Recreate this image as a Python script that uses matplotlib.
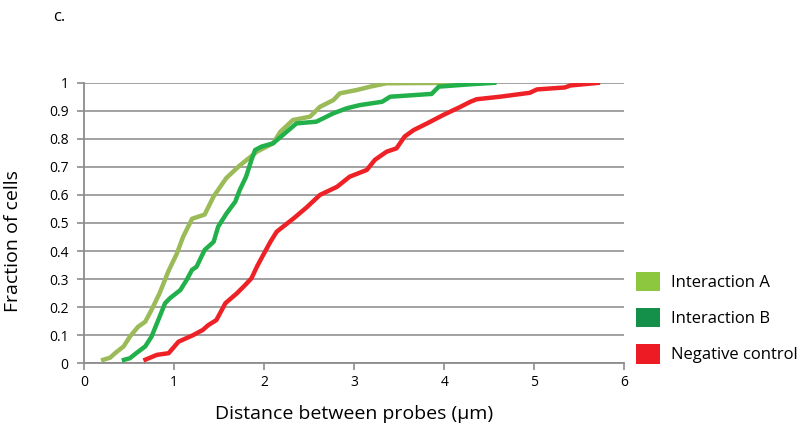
import matplotlib.pyplot as plt
from matplotlib.patches import Patch

plt.rcParams['font.family'] = ['Open Sans', 'DejaVu Sans']

# cumulative distributions
dist_a = [0.19, 0.29, 0.36, 0.44, 0.51, 0.60, 0.68, 0.75, 0.84, 0.94, 1.03, 1.10, 1.20,
          1.34, 1.44, 1.58, 1.73, 1.92, 2.10, 2.18, 2.32, 2.51, 2.62, 2.77, 2.84, 3.03,
          3.18, 3.36, 4.40]
frac_a = [0.01, 0.02, 0.04, 0.06, 0.095, 0.13, 0.148, 0.19, 0.25, 0.33, 0.39, 0.45, 0.515,
          0.53, 0.595, 0.66, 0.705, 0.754, 0.784, 0.825, 0.867, 0.879, 0.914, 0.938, 0.962,
          0.974, 0.986, 0.998, 1.0]

dist_b = [0.42, 0.51, 0.58, 0.68, 0.75, 0.84, 0.90, 0.955, 1.07, 1.14, 1.20, 1.25, 1.34,
          1.44, 1.49, 1.585, 1.68, 1.73, 1.80, 1.86, 1.90, 1.97, 2.10, 2.21, 2.36, 2.58,
          2.77, 2.92, 3.06, 3.31, 3.40, 3.86, 3.94, 4.32, 4.58]
frac_b = [0.01, 0.018, 0.036, 0.06, 0.095, 0.166, 0.214, 0.232, 0.261, 0.297, 0.333, 0.344,
          0.404, 0.433, 0.487, 0.535, 0.576, 0.618, 0.665, 0.725, 0.76, 0.772, 0.784, 0.814,
          0.855, 0.861, 0.891, 0.909, 0.92, 0.932, 0.95, 0.96, 0.986, 0.995, 1.0]

dist_neg = [0.66, 0.81, 0.94, 1.05, 1.21, 1.32, 1.38, 1.47, 1.57, 1.70, 1.79, 1.86, 1.92,
            1.99, 2.07, 2.14, 2.33, 2.47, 2.62, 2.81, 2.95, 3.14, 3.23, 3.36, 3.47, 3.56,
            3.66, 3.81, 3.99, 4.18, 4.29, 4.36, 4.62, 4.95, 5.03, 5.34, 5.40, 5.73]
frac_neg = [0.01, 0.03, 0.036, 0.077, 0.10, 0.119, 0.136, 0.154, 0.214, 0.25, 0.279, 0.303,
            0.344, 0.386, 0.433, 0.469, 0.517, 0.555, 0.60, 0.629, 0.665, 0.689, 0.725, 0.754,
            0.766, 0.808, 0.831, 0.855, 0.885, 0.914, 0.932, 0.941, 0.95, 0.964, 0.976, 0.983,
            0.99, 1.0]

labels = ['Interaction A', 'Interaction B', 'Negative control']
line_colors = ['#9BBB59', '#22B04B', '#EE2226']
patch_colors = ['#8DC63F', '#15904A', '#ED1C24']

fig = plt.figure(figsize=(8.02, 4.28), dpi=100)
ax = fig.add_axes([0.1047, 0.1512, 0.6738, 0.6556])

for xs, ys, c in zip([dist_a, dist_b, dist_neg], [frac_a, frac_b, frac_neg], line_colors):
    ax.plot(xs, ys, color=c, lw=3.2, solid_joinstyle='round', solid_capstyle='butt', zorder=3)

ax.set_xlim(0, 6)
ax.set_ylim(0, 1)
ax.set_xticks(range(7))
ax.set_yticks([i / 10 for i in range(11)])
ax.set_yticklabels(['0', '0.1', '0.2', '0.3', '0.4', '0.5', '0.6', '0.7', '0.8', '0.9', '1'])
ax.yaxis.grid(True, color='#9A9A9A', lw=1.3)
ax.set_axisbelow(True)
for s in ['top', 'right']:
    ax.spines[s].set_visible(False)
for s in ['left', 'bottom']:
    ax.spines[s].set_color('#8C8C8C')
    ax.spines[s].set_linewidth(1.3)
ax.tick_params(axis='both', colors='#8C8C8C', length=5, width=1.2, labelsize=10, labelcolor='black')
ax.tick_params(axis='y', pad=6)

ax.set_xlabel('Distance between probes (µm)', fontsize=14)
ax.xaxis.set_label_coords(0.5, -0.15)
ax.set_ylabel('Fraction of cells', fontsize=14)
ax.yaxis.set_label_coords(-0.115, 0.436)

handles = [Patch(facecolor=c, edgecolor='none') for c in patch_colors]
fig.legend(handles, labels, loc='upper left', bbox_to_anchor=(0.793, 0.365),
           frameon=False, fontsize=12, handlelength=1.45, handleheight=1.42,
           handletextpad=0.64, labelspacing=1.0, borderaxespad=0, borderpad=0)

fig.text(0.066, 0.96, 'c.', fontsize=12, va='center', ha='left')

fig.savefig('out.png', dpi=100)
